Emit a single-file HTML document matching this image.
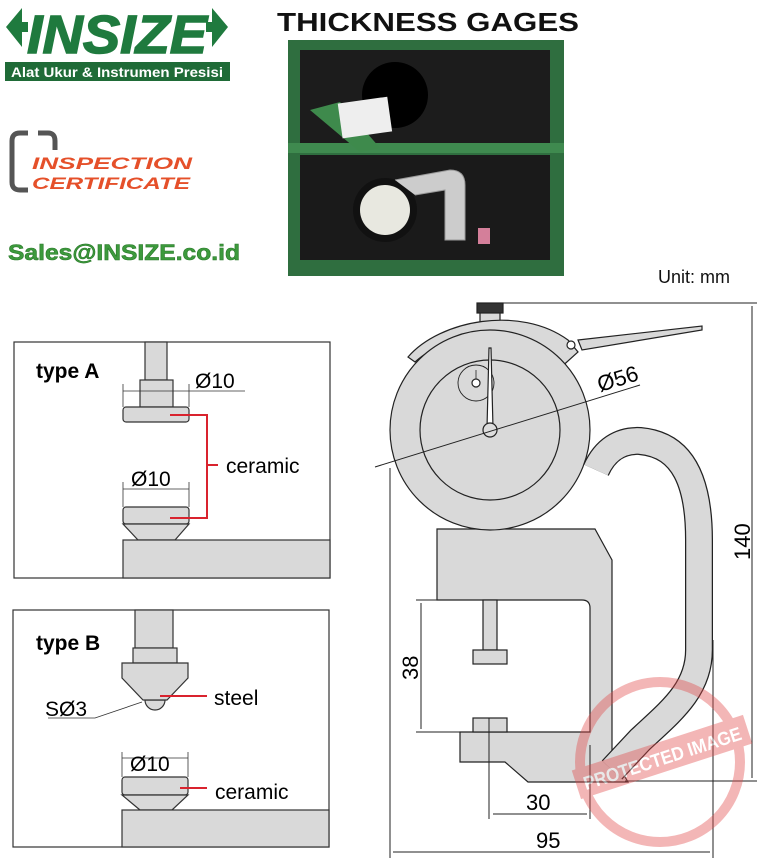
<!DOCTYPE html>
<html><head><meta charset="utf-8"><style>
body{margin:0;background:#fff;}
svg{display:block;font-family:"Liberation Sans",Arial,sans-serif;}
</style></head><body>
<svg width="777" height="865" viewBox="0 0 777 865" xmlns="http://www.w3.org/2000/svg">
<!-- Logo -->
<polygon points="6,27 22,8 22,22 28,22 28,32 22,32 22,47" fill="#1f7a3e"/>
<polygon points="228,27 212,8 212,22 206,22 206,32 212,32 212,47" fill="#1f7a3e"/>
<text x="117" y="53" text-anchor="middle" font-size="54" font-weight="bold" font-style="italic" fill="#1f7a3e" stroke="#1f7a3e" stroke-width="1.5" textLength="180" lengthAdjust="spacingAndGlyphs">INSIZE</text>
<rect x="5" y="62" width="225" height="19" fill="#1f6b37"/>
<text x="117" y="77" text-anchor="middle" font-size="14" font-weight="bold" fill="#fff" textLength="212" lengthAdjust="spacingAndGlyphs">Alat Ukur &amp; Instrumen Presisi</text>
<path d="M28,133 L20,133 Q12,133 12,141 L12,182 Q12,190 20,190 L28,190 M38,133 L48,133 Q55,133 55,141 L55,150" fill="none" stroke="#555" stroke-width="5"/>
<text x="32" y="169" font-size="17" font-weight="bold" font-style="italic" fill="#e5502a" textLength="160" lengthAdjust="spacingAndGlyphs">INSPECTION</text>
<text x="32" y="189" font-size="17" font-weight="bold" font-style="italic" fill="#e5502a" textLength="158" lengthAdjust="spacingAndGlyphs">CERTIFICATE</text>
<text x="8" y="260" font-size="22" font-weight="bold" fill="#3d9a3d" stroke="#2a7a2a" stroke-width="0.6" textLength="232" lengthAdjust="spacingAndGlyphs">Sales@INSIZE.co.id</text>
<text x="277" y="31" font-size="26" font-weight="bold" fill="#111" textLength="302" lengthAdjust="spacingAndGlyphs">THICKNESS GAGES</text>
<!-- Photo -->
<rect x="288" y="40" width="276" height="236" fill="#2f6e3f"/>
<rect x="300" y="50" width="250" height="95" fill="#1c1c1c"/>
<rect x="300" y="155" width="250" height="105" fill="#1a1a1a"/>
<rect x="288" y="143" width="276" height="10" fill="#3f8a4f"/>
<circle cx="395" cy="95" r="33" fill="#000"/>
<polygon points="310,110 340,102 380,148 360,152" fill="#3e8a4c"/>
<rect x="340" y="100" width="50" height="35" fill="#eee" transform="rotate(-8 365 118)"/>
<circle cx="385" cy="210" r="32" fill="#111"/><circle cx="385" cy="210" r="25" fill="#e8e8e0"/>
<path d="M395,180 L450,170 Q465,170 465,185 L465,240 L445,240 L445,190 L415,195" fill="#ccc" stroke="#999"/>
<rect x="478" y="228" width="12" height="16" fill="#d47f9a"/>
<text x="658" y="283" font-size="18" fill="#111">Unit: mm</text>
<!-- Type A -->
<g stroke="#333" stroke-width="1.2">
<rect x="14" y="342" width="316" height="236" fill="#fff"/>
<rect x="145" y="342" width="22" height="38" fill="#d9d9d9"/>
<rect x="140" y="380" width="33" height="27" fill="#d9d9d9"/>
<rect x="123" y="407" width="66" height="15" rx="3" fill="#d9d9d9"/>
<rect x="123" y="507" width="66" height="17" rx="3" fill="#d9d9d9"/>
<polygon points="123,524 189,524 175,540 138,540" fill="#d9d9d9"/>
<rect x="123" y="540" width="207" height="38" fill="#d9d9d9"/>
<line x1="123" y1="391" x2="245" y2="391" stroke-width="0.8"/>
<line x1="123" y1="384" x2="123" y2="407" stroke-width="0.8"/>
<line x1="189" y1="384" x2="189" y2="407" stroke-width="0.8"/>
<line x1="123" y1="489" x2="189" y2="489" stroke-width="0.8"/>
<line x1="123" y1="482" x2="123" y2="507" stroke-width="0.8"/>
<line x1="189" y1="482" x2="189" y2="507" stroke-width="0.8"/>
</g>
<polyline points="170,415 207,415 207,518 170,518" fill="none" stroke="#d9232e" stroke-width="2"/>
<line x1="207" y1="465" x2="218" y2="465" stroke="#d9232e" stroke-width="2"/>
<text x="36" y="378" font-size="21" font-weight="bold">type A</text>
<text x="195" y="388" font-size="21">Ø10</text>
<text x="131" y="486" font-size="21">Ø10</text>
<text x="226" y="473" font-size="21">ceramic</text>
<!-- Type B -->
<g stroke="#333" stroke-width="1.2">
<rect x="13" y="610" width="316" height="237" fill="#fff"/>
<rect x="135" y="610" width="38" height="38" fill="#d9d9d9"/>
<rect x="133" y="648" width="44" height="15" fill="#d9d9d9"/>
<path d="M145,700 A10,10 0 0 0 165,700 Z" fill="#d9d9d9"/>
<polygon points="122,663 188,663 188,678 167,700 143,700 122,678" fill="#d9d9d9"/>
<rect x="122" y="777" width="66" height="18" rx="3" fill="#d9d9d9"/>
<polygon points="122,795 188,795 172,810 140,810" fill="#d9d9d9"/>
<rect x="122" y="810" width="207" height="37" fill="#d9d9d9"/>
<polyline points="48,718 95,718 142,702" fill="none" stroke-width="0.8"/>
<line x1="122" y1="758" x2="188" y2="758" stroke-width="0.8"/>
<line x1="122" y1="752" x2="122" y2="777" stroke-width="0.8"/>
<line x1="188" y1="752" x2="188" y2="777" stroke-width="0.8"/>
</g>
<line x1="160" y1="696" x2="207" y2="696" stroke="#d9232e" stroke-width="2"/>
<line x1="180" y1="788" x2="207" y2="788" stroke="#d9232e" stroke-width="2"/>
<text x="36" y="650" font-size="21" font-weight="bold">type B</text>
<text x="214" y="705" font-size="21">steel</text>
<text x="45" y="716" font-size="21">SØ3</text>
<text x="130" y="771" font-size="21">Ø10</text>
<text x="215" y="799" font-size="21">ceramic</text>
<!-- Gauge -->
<g stroke="#222" stroke-width="1.2" fill="#d9d9d9">
<path d="M437,529 L595,529 L612,560 L612,755 L628,782 L528,782 L505,762 L460,762 L460,732 L590,732 L590,608 Q590,600 582,600 L437,600 Z"/>
<path d="M596,470 C605,450 620,440 640,441 C685,445 699,485 699,540 L699,650 C699,690 670,712 640,740 L612,770" fill="none" stroke="#222" stroke-width="28"/>
<path d="M596,470 C605,450 620,440 640,441 C685,445 699,485 699,540 L699,650 C699,690 670,712 640,740 L612,770" fill="none" stroke="#d9d9d9" stroke-width="25.5"/>
<rect x="483" y="600" width="14" height="50"/>
<rect x="473" y="650" width="34" height="14"/>
<rect x="473" y="718" width="34" height="14"/>
<rect x="480" y="312" width="20" height="18"/>
<rect x="477" y="303" width="26" height="10" fill="#333"/>
<path d="M408,357 C440,320 520,305 568,340 L578,352 L558,370 L550,355 C520,325 450,330 415,362 Z"/>
<polygon points="578,340 702,326 702,330 582,350"/>
<circle cx="571" cy="345" r="4" fill="#fff"/>
<circle cx="490" cy="430" r="100"/>
<circle cx="490" cy="430" r="70" fill="none"/>
<circle cx="476" cy="383" r="18" fill="none" stroke-width="0.9"/>
<circle cx="476" cy="383" r="4" fill="#fff"/>
<line x1="476" y1="370" x2="476" y2="379" stroke-width="0.8"/>
<polygon points="489,348 491,348 493,428 487,428" fill="#fff"/>
<circle cx="490" cy="430" r="7" fill="#ddd"/>
</g>
<g stroke="#222" stroke-width="1" fill="none">
<line x1="375" y1="467" x2="640" y2="385"/>
<line x1="503" y1="303" x2="757" y2="303"/>
<line x1="625" y1="781" x2="757" y2="781"/>
<line x1="752" y1="306" x2="752" y2="778"/>
<line x1="416" y1="600" x2="437" y2="600"/>
<line x1="416" y1="732" x2="460" y2="732"/>
<line x1="421" y1="603" x2="421" y2="729"/>
<line x1="489" y1="718" x2="489" y2="819"/>
<line x1="590" y1="745" x2="590" y2="819"/>
<line x1="493" y1="814" x2="587" y2="814"/>
<line x1="390" y1="468" x2="390" y2="858"/>
<line x1="713" y1="640" x2="713" y2="858"/>
<line x1="393" y1="852" x2="710" y2="852"/>
</g>
<text x="600" y="392" font-size="22" transform="rotate(-17 600 392)">Ø56</text>
<text x="750" y="560" font-size="22" transform="rotate(-90 750 560)">140</text>
<text x="418" y="680" font-size="22" transform="rotate(-90 418 680)">38</text>
<text x="526" y="810" font-size="22">30</text>
<text x="536" y="848" font-size="22">95</text>
<!-- watermark -->
<g opacity="0.4">
<circle cx="660" cy="762" r="80" fill="none" stroke="#e24a4a" stroke-width="10"/>
<rect x="572" y="742" width="180" height="30" fill="#e24a4a" transform="rotate(-18 662 757)"/>
<text x="662" y="765" text-anchor="middle" font-size="19" font-weight="bold" fill="#fff" transform="rotate(-18 662 757)" textLength="165" lengthAdjust="spacingAndGlyphs">PROTECTED IMAGE</text>
</g>
</svg>
</body></html>
